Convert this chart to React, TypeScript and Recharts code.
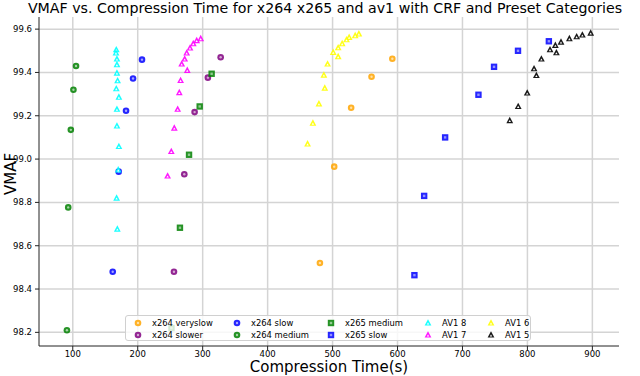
import React from "react";
import {
  ScatterChart,
  Scatter,
  XAxis,
  YAxis,
  CartesianGrid,
} from "recharts";

// compression time (s) and VMAF
const x264Veryslow = [
  { t: 592, v: 99.463 }, { t: 560, v: 99.38 }, { t: 528.6, v: 99.237 },
  { t: 502.5, v: 98.965 }, { t: 480.5, v: 98.52 },
];
const x264Slower = [
  { t: 327.7, v: 99.47 }, { t: 308, v: 99.376 }, { t: 287.6, v: 99.217 },
  { t: 271.7, v: 98.93 }, { t: 255.8, v: 98.48 },
];
const x264Slow = [
  { t: 206.6, v: 99.459 }, { t: 192.8, v: 99.372 }, { t: 182, v: 99.223 },
  { t: 170.7, v: 98.942 }, { t: 161.5, v: 98.48 },
];
const x264Medium = [
  { t: 105, v: 99.43 }, { t: 101, v: 99.32 }, { t: 97, v: 99.135 },
  { t: 93, v: 98.777 }, { t: 91, v: 98.21 },
];
const x265Medium = [
  { t: 313.8, v: 99.394 }, { t: 295.4, v: 99.243 }, { t: 279, v: 99.02 },
  { t: 265, v: 98.683 }, { t: 252, v: 98.22 },
];
const x265Slow = [
  { t: 833, v: 99.544 }, { t: 785.5, v: 99.5 }, { t: 748.6, v: 99.426 },
  { t: 724.6, v: 99.297 }, { t: 673.3, v: 99.1 }, { t: 641, v: 98.83 },
  { t: 626, v: 98.464 },
];
const av1Preset8 = [
  { t: 167, v: 99.505 }, { t: 166.5, v: 99.49 }, { t: 168, v: 99.462 },
  { t: 168, v: 99.436 }, { t: 168, v: 99.397 }, { t: 169, v: 99.362 },
  { t: 167, v: 99.325 }, { t: 171, v: 99.286 }, { t: 168, v: 99.23 },
  { t: 168, v: 99.153 }, { t: 171, v: 99.058 }, { t: 170, v: 98.95 },
  { t: 167.5, v: 98.82 }, { t: 168.6, v: 98.677 },
];
const av1Preset7 = [
  { t: 297, v: 99.556 }, { t: 290.8, v: 99.547 }, { t: 285.5, v: 99.533 },
  { t: 280.5, v: 99.513 }, { t: 275.4, v: 99.49 }, { t: 272.3, v: 99.462 },
  { t: 267.7, v: 99.439 }, { t: 276.3, v: 99.41 }, { t: 266, v: 99.363 },
  { t: 264, v: 99.307 }, { t: 261.5, v: 99.23 }, { t: 256.3, v: 99.143 },
  { t: 251.7, v: 99.035 }, { t: 246, v: 98.922 },
];
const av1Preset6 = [
  { t: 540.5, v: 99.578 }, { t: 534.8, v: 99.57 }, { t: 525.5, v: 99.562 },
  { t: 521.5, v: 99.551 }, { t: 514.8, v: 99.533 }, { t: 508.6, v: 99.514 },
  { t: 501, v: 99.493 }, { t: 508.6, v: 99.473 }, { t: 492.3, v: 99.439 },
  { t: 486.6, v: 99.388 }, { t: 488, v: 99.328 }, { t: 479, v: 99.255 },
  { t: 469.7, v: 99.166 }, { t: 461.5, v: 99.07 },
];
const av1Preset5 = [
  { t: 897.4, v: 99.582 }, { t: 884.6, v: 99.573 }, { t: 875.8, v: 99.565 },
  { t: 864.6, v: 99.556 }, { t: 851.7, v: 99.54 }, { t: 843, v: 99.525 },
  { t: 834.8, v: 99.505 }, { t: 844.6, v: 99.491 }, { t: 821.5, v: 99.462 },
  { t: 810.2, v: 99.417 }, { t: 813.8, v: 99.386 }, { t: 799.7, v: 99.305 },
  { t: 785.8, v: 99.243 }, { t: 772.8, v: 99.178 },
];

const xTicks = [100, 200, 300, 400, 500, 600, 700, 800, 900];
const yTicks = [98.2, 98.4, 98.6, 98.8, 99.0, 99.2, 99.4, 99.6];

const FONT = "DejaVu Sans";

type Kind = "circle" | "square" | "triangle";

const series: { name: string; data: { t: number; v: number }[]; color: string; kind: Kind }[] = [
  { name: "x264 veryslow", data: x264Veryslow, color: "#ffa500", kind: "circle" },
  { name: "x264 slower", data: x264Slower, color: "#800080", kind: "circle" },
  { name: "x264 slow", data: x264Slow, color: "#0000ff", kind: "circle" },
  { name: "x264 medium", data: x264Medium, color: "#008000", kind: "circle" },
  { name: "x265 medium", data: x265Medium, color: "#008000", kind: "square" },
  { name: "x265 slow", data: x265Slow, color: "#0000ff", kind: "square" },
  { name: "AV1 8", data: av1Preset8, color: "#00ffff", kind: "triangle" },
  { name: "AV1 7", data: av1Preset7, color: "#ff00ff", kind: "triangle" },
  { name: "AV1 6", data: av1Preset6, color: "#ffff00", kind: "triangle" },
  { name: "AV1 5", data: av1Preset5, color: "#000000", kind: "triangle" },
];

function Marker({ cx, cy, color, kind }: { cx: number; cy: number; color: string; kind: Kind }) {
  if (kind === "circle") {
    return (
      <g>
        <circle cx={cx} cy={cy} r={3.3} fill={color} fillOpacity={0.85} />
        <circle cx={cx} cy={cy} r={1.2} fill="#fff" fillOpacity={0.6} />
      </g>
    );
  }
  if (kind === "square") {
    return (
      <g>
        <rect x={cx - 3.2} y={cy - 3.2} width={6.4} height={6.4} fill={color} fillOpacity={0.85} />
        <rect x={cx - 1.2} y={cy - 1.2} width={2.4} height={2.4} fill="#fff" fillOpacity={0.5} />
      </g>
    );
  }
  return (
    <g>
      <path
        d={`M${cx},${cy - 3.8}L${cx + 3.4},${cy + 2.6}L${cx - 3.4},${cy + 2.6}Z`}
        fill={color}
        fillOpacity={0.9}
      />
      <path
        d={`M${cx},${cy - 0.6}L${cx + 1.2},${cy + 1.5}L${cx - 1.2},${cy + 1.5}Z`}
        fill="#fff"
      />
    </g>
  );
}

function LegendBox() {
  return (
    <div
      style={{
        position: "absolute",
        left: 125,
        top: 315,
        width: 406,
        height: 26,
        background: "rgba(255,255,255,0.8)",
        border: "1px solid #d0d0d0",
        borderRadius: 3,
        boxSizing: "border-box",
        fontFamily: FONT,
        fontSize: 8.4,
        color: "#000",
      }}
    >
      {series.map((s, i) => {
        const col = Math.floor(i / 2);
        const row = i % 2;
        const colX = [7, 106, 200, 297, 360][col];
        return (
          <div
            key={s.name}
            style={{
              position: "absolute",
              left: colX,
              top: 1 + row * 12,
              height: 11,
              display: "flex",
              alignItems: "center",
              whiteSpace: "nowrap",
            }}
          >
            <svg width={10} height={10} style={{ marginRight: 9 }}>
              <Marker cx={5} cy={5} color={s.color} kind={s.kind} />
            </svg>
            <span>{s.name}</span>
          </div>
        );
      })}
    </div>
  );
}

export default function App() {
  return (
    <div style={{ position: "absolute", left: 0, top: 0, width: 640, height: 376, background: "#fff" }}>
      <div
        style={{
          position: "absolute",
          left: 0,
          width: 650,
          top: 0,
          textAlign: "center",
          fontFamily: FONT,
          fontSize: 14.2,
          lineHeight: "17px",
          color: "#000",
        }}
      >
        VMAF vs. Compression Time for x264 x265 and av1 with CRF and Preset Categories
      </div>
      <ScatterChart
        width={640}
        height={376}
        margin={{ top: 17, right: 21, left: 0, bottom: 0 }}
      >
        <CartesianGrid
          stroke="#d4d4d4"
          strokeWidth={1.5}
          horizontalValues={yTicks}
          verticalValues={xTicks}
        />
        <XAxis
          type="number"
          dataKey="t"
          domain={[48, 941]}
          ticks={xTicks}
          height={30}
          allowDataOverflow
          tickSize={4}
          tickMargin={1}
          stroke="#222"
          tick={{ fontSize: 8.5, fontFamily: FONT, fill: "#000" }}
          label={({ viewBox }: any) => (
            <text
              x={viewBox.x + viewBox.width / 2}
              y={372}
              textAnchor="middle"
              fontFamily={FONT}
              fontSize={15}
              fill="#000"
            >
              Compression Time(s)
            </text>
          )}
        />
        <XAxis
          xAxisId="top"
          orientation="top"
          type="number"
          domain={[48, 941]}
          height={0}
          tick={false}
          tickLine={false}
          stroke="#222"
        />
        <YAxis
          type="number"
          dataKey="v"
          domain={[98.137, 99.656]}
          ticks={yTicks}
          width={39}
          allowDataOverflow
          tickSize={4}
          tickMargin={3}
          stroke="#222"
          tickFormatter={(v: number) => v.toFixed(1)}
          tick={{ fontSize: 8.5, fontFamily: FONT, fill: "#000" }}
          label={() => (
            <text
              transform="rotate(-90 16 174)"
              x={16}
              y={174}
              textAnchor="middle"
              fontFamily={FONT}
              fontSize={15}
              fill="#000"
            >
              VMAF
            </text>
          )}
        />
        <YAxis
          yAxisId="right"
          orientation="right"
          type="number"
          domain={[98.137, 99.656]}
          width={0}
          tick={false}
          tickLine={false}
          stroke="#222"
        />
        {series.map((s) => (
          <Scatter
            key={s.name}
            name={s.name}
            data={s.data}
            isAnimationActive={false}
            shape={(p: any) => <Marker cx={p.cx} cy={p.cy} color={s.color} kind={s.kind} />}
          />
        ))}
      </ScatterChart>
      <LegendBox />
    </div>
  );
}
